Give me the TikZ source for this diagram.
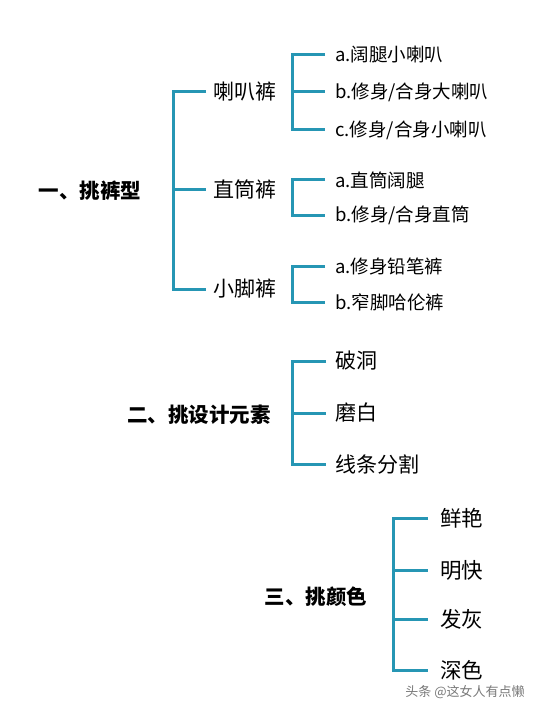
\documentclass[tikz,border=0pt]{standalone}
\usepackage{fontspec}
\setmainfont{Noto Sans CJK SC}
\definecolor{teal1}{RGB}{38,150,180}
\definecolor{wmgray}{RGB}{120,120,120}
\tikzset{
  br/.style={draw=teal1, line width=3pt},
  title/.style={font=\bfseries\fontsize{20.5}{20.5}\selectfont, inner sep=0pt},
  lvlone/.style={font=\fontsize{21}{21}\selectfont, anchor=west, inner xsep=7pt, inner ysep=0pt},
  lvltwo/.style={font=\fontsize{18.5}{18.5}\selectfont, anchor=west, inner xsep=10pt, inner ysep=0pt},
  lvlmid/.style={font=\fontsize{21}{21}\selectfont, anchor=west, inner xsep=9pt, inner ysep=0pt},
  lvlcol/.style={font=\fontsize{21.5}{21.5}\selectfont, anchor=west, inner xsep=12pt, inner ysep=0pt},
}
\begin{document}
\begin{tikzpicture}[x=1pt,y=-1pt]
\useasboundingbox (0,0) rectangle (539,714);
% group 1
\node[title] (t1) at (90,191) {一、挑裤型};
\coordinate (s1) at (173,0);
\node[lvlone] (a1) at (206,92) {喇叭裤};
\node[lvlone] (a2) at (206,189) {直筒裤};
\node[lvlone] (a3) at (206,289) {小脚裤};
\draw[br] (a1.west) -- (s1|-a1.west) -- (s1|-a3.west) -- (a3.west);
\draw[br] (s1|-a2.west) -- (a2.west);
% sub 1
\coordinate (s2) at (292,0);
\node[lvltwo] (b1) at (325,55) {a.阔腿小喇叭};
\node[lvltwo] (b2) at (325,92) {b.修身/合身大喇叭};
\node[lvltwo] (b3) at (325,130) {c.修身/合身小喇叭};
\draw[br] (b1.west) -- (s2|-b1.west) -- (s2|-b3.west) -- (b3.west);
\draw[br] (s2|-b2.west) -- (b2.west);
% sub 2
\node[lvltwo] (c1) at (325,180) {a.直筒阔腿};
\node[lvltwo] (c2) at (325,215) {b.修身/合身直筒};
\draw[br] (c1.west) -- (s2|-c1.west) -- (s2|-c2.west) -- (c2.west);
% sub 3
\node[lvltwo] (d1) at (325,266) {a.修身铅笔裤};
\node[lvltwo] (d2) at (325,302) {b.窄脚哈伦裤};
\draw[br] (d1.west) -- (s2|-d1.west) -- (s2|-d2.west) -- (d2.west);
% group 2
\node[title] (t2) at (199,415) {二、挑设计元素};
\node[lvlmid] (e1) at (326,361) {破洞};
\node[lvlmid] (e2) at (326,413) {磨白};
\node[lvlmid] (e3) at (326,464) {线条分割};
\draw[br] (e1.west) -- (s2|-e1.west) -- (s2|-e3.west) -- (e3.west);
\draw[br] (s2|-e2.west) -- (e2.west);
% group 3
\node[title] (t3) at (316,597) {三、挑颜色};
\coordinate (s3) at (393,0);
\node[lvlcol] (f1) at (428,518) {鲜艳};
\node[lvlcol] (f2) at (428,570) {明快};
\node[lvlcol] (f3) at (428,619) {发灰};
\node[lvlcol] (f4) at (428,670) {深色};
\draw[br] (f1.west) -- (s3|-f1.west) -- (s3|-f4.west) -- (f4.west);
\draw[br] (s3|-f2.west) -- (f2.west);
\draw[br] (s3|-f3.west) -- (f3.west);
% watermark
\node[font=\fontsize{13}{13}\selectfont, text=wmgray] (wm) at (465,692) {头条 @这女人有点懒};
\end{tikzpicture}
\end{document}
